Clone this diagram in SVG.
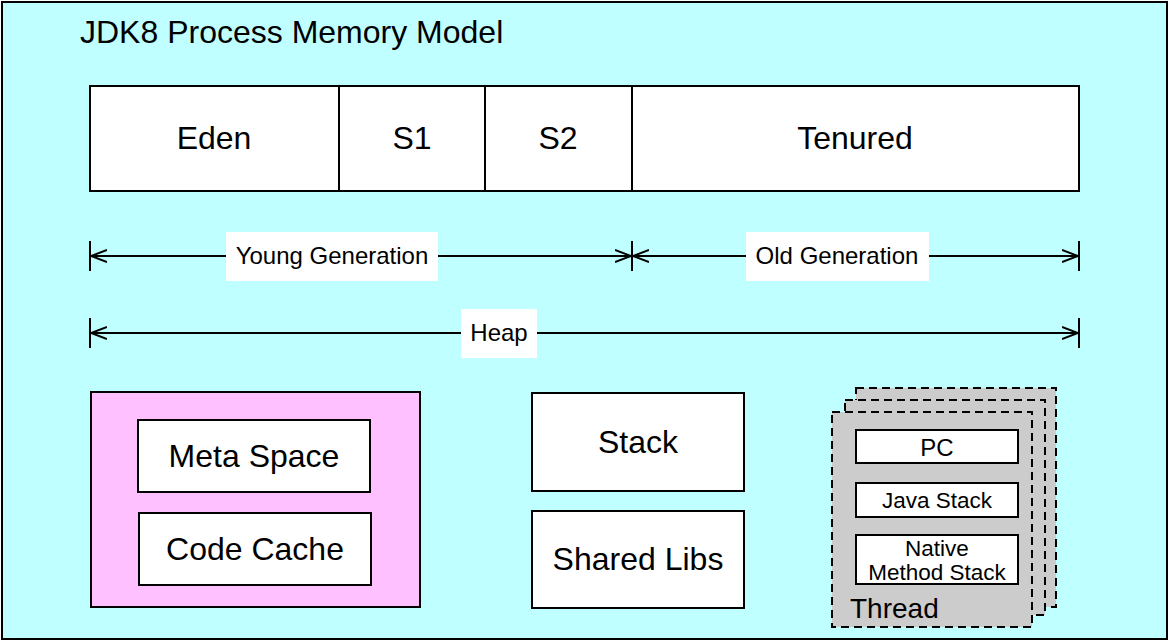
<svg xmlns="http://www.w3.org/2000/svg" width="1170" height="642" viewBox="0 0 1170 642">
<style>
text{font-family:"Liberation Sans",Arial,sans-serif;fill:#000}
.box{fill:#fff;stroke:#000;stroke-width:2}
.c{text-anchor:middle}
.big{font-size:32px}
.mid{font-size:24px}
.sm{font-size:22.5px}
.dim{stroke:#000;stroke-width:2;fill:none}
.lbl{fill:#fff;stroke:none}
.thr{fill:#ccc;stroke:#000;stroke-width:2;stroke-dasharray:8 5}
</style>
<defs>
<marker id="ah" viewBox="0 0 16 14" refX="16" refY="7" markerWidth="16" markerHeight="14" markerUnits="userSpaceOnUse" orient="auto-start-reverse">
<path d="M0,1 L16,7 L0,13" fill="none" stroke="#000" stroke-width="2"/>
</marker>
</defs>
<rect x="2" y="2" width="1165" height="637" fill="#c0ffff" stroke="#000" stroke-width="2"/>
<text x="80" y="43" font-size="32">JDK8 Process Memory Model</text>
<g id="eden"><rect class="box" x="90" y="86" width="249" height="105"/><text class="c big" x="214" y="149">Eden</text></g>
<g id="s1"><rect class="box" x="339" y="86" width="146" height="105"/><text class="c big" x="412" y="149">S1</text></g>
<g id="s2"><rect class="box" x="485" y="86" width="147" height="105"/><text class="c big" x="558" y="149">S2</text></g>
<g id="tenured"><rect class="box" x="632" y="86" width="447" height="105"/><text class="c big" x="855" y="149">Tenured</text></g>
<g id="connectors">
<line class="dim" x1="90" y1="241" x2="90" y2="271"/>
<line class="dim" x1="632" y1="241" x2="632" y2="271"/>
<line class="dim" x1="1079" y1="241" x2="1079" y2="271"/>
<line class="dim" x1="90" y1="318" x2="90" y2="348"/>
<line class="dim" x1="1079" y1="318" x2="1079" y2="348"/>
<line class="dim" x1="91" y1="256" x2="631" y2="256" marker-start="url(#ah)" marker-end="url(#ah)"/>
<line class="dim" x1="633" y1="256" x2="1078" y2="256" marker-start="url(#ah)" marker-end="url(#ah)"/>
<line class="dim" x1="91" y1="333" x2="1078" y2="333" marker-start="url(#ah)" marker-end="url(#ah)"/>
</g>
<g id="young"><rect class="lbl" x="226" y="232" width="212" height="49"/><text class="c mid" x="332" y="264">Young Generation</text></g>
<g id="old"><rect class="lbl" x="746" y="232" width="183" height="49"/><text class="c mid" x="837" y="264">Old Generation</text></g>
<g id="heap"><rect class="lbl" x="461" y="309" width="76" height="49"/><text class="c mid" x="499" y="341">Heap</text></g>
<g id="nonheap">
<rect x="91" y="392" width="329" height="215" fill="#ffc0ff" stroke="#000" stroke-width="2"/>
<g id="metaspace"><rect class="box" x="138" y="420" width="232" height="72"/><text class="c big" x="254" y="467">Meta Space</text></g>
<g id="codecache"><rect class="box" x="139" y="513" width="232" height="72"/><text class="c big" x="255" y="560">Code Cache</text></g>
</g>
<g id="stack"><rect class="box" x="532" y="393" width="212" height="98"/><text class="c big" x="638" y="453">Stack</text></g>
<g id="sharedlibs"><rect class="box" x="532" y="511" width="212" height="97"/><text class="c big" x="638" y="570">Shared Libs</text></g>
<g id="thread">
<rect class="thr" x="856" y="388" width="200" height="219"/>
<rect class="thr" x="845" y="400" width="200" height="215"/>
<rect class="thr" x="832" y="412" width="200" height="215"/>
<g id="pc"><rect class="box" x="856" y="430" width="162" height="33"/><text class="c" font-size="24" x="937" y="456">PC</text></g>
<g id="javastack"><rect class="box" x="856" y="483" width="162" height="34"/><text class="c sm" x="937" y="508">Java Stack</text></g>
<g id="native"><rect class="box" x="856" y="535" width="162" height="49"/><text class="c sm" x="937" y="556">Native</text><text class="c sm" x="937" y="580">Method Stack</text></g>
<text x="850" y="618" font-size="28">Thread</text>
</g>
</svg>
